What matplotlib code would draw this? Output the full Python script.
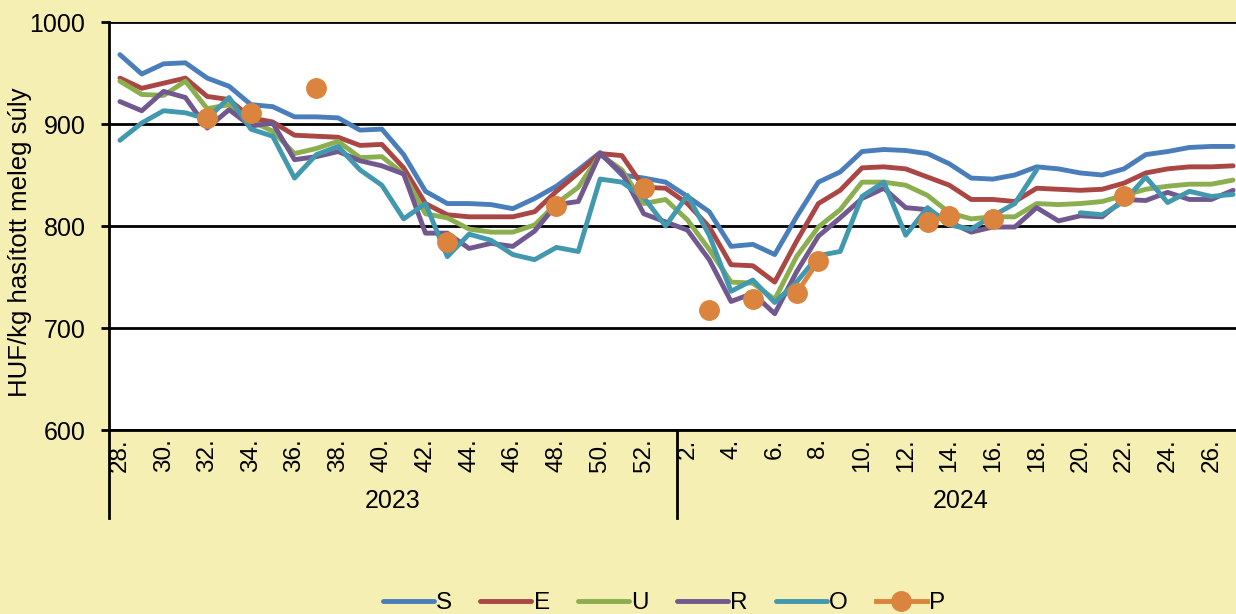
import numpy as np
import matplotlib.pyplot as plt
from matplotlib.transforms import blended_transform_factory

plt.rcParams['font.family'] = ['Liberation Sans', 'DejaVu Sans']

nan = np.nan

# week numbers inside each year group
weeks_2023 = list(range(28, 54))
weeks_2024 = list(range(2, 28))
years = ['2023', '2024']

# HUF/kg prices
s = [968, 949, 959, 960, 945, 937, 919, 917, 907, 907,
     906, 894, 895, 870, 834, 822, 822, 821, 817, 827,
     839, 855, 872, 850, 847, 843, 829, 814, 780, 782,
     772, 809, 843, 853, 873, 875, 874, 871, 861, 847,
     846, 850, 858, 856, 852, 850, 856, 870, 873, 877,
     878, 878]
e = [945, 935, 940, 945, 927, 924, 906, 902, 889, 888,
     887, 879, 880, 857, 822, 811, 809, 809, 809, 814,
     834, 852, 871, 869, 838, 837, 822, 799, 762, 761,
     745, 785, 822, 835, 857, 858, 856, 848, 840, 826,
     826, 824, 837, 836, 835, 836, 842, 852, 856, 858,
     858, 859]
u = [942, 929, 928, 942, 915, 919, 903, 893, 871, 876,
     883, 867, 868, 851, 812, 808, 797, 794, 794, 801,
     822, 838, 870, 855, 822, 826, 806, 777, 745, 744,
     728, 770, 799, 816, 843, 843, 840, 830, 813, 807,
     809, 809, 822, 821, 822, 824, 830, 836, 839, 841,
     841, 845]
r = [922, 913, 932, 926, 896, 914, 898, 901, 865, 868,
     873, 864, 859, 851, 793, 793, 778, 783, 780, 795,
     821, 824, 871, 852, 812, 804, 796, 767, 726, 734,
     714, 755, 790, 808, 827, 837, 818, 816, 804, 794,
     799, 799, 818, 805, 810, 809, 826, 825, 833, 826,
     826, 835]
o = [884, 901, 913, 911, 905, 926, 895, 888, 847, 870,
     878, 855, 840, 807, 822, 770, 792, 786, 772, 767,
     779, 775, 846, 843, 828, 800, 830, 791, 736, 747,
     725, 745, 771, 775, 829, 843, 791, 818, 801, 797,
     810, 822, 855, nan, 813, 811, 824, 848, 823, 834,
     829, 831]
p = [nan, nan, nan, nan, 906, nan, 911, nan, nan, 935,
     nan, nan, nan, nan, nan, 784, nan, nan, nan, nan,
     820, nan, nan, nan, 837, nan, nan, 718, nan, 728,
     nan, 734, 766, nan, nan, nan, nan, 804, 810, nan,
     807, nan, nan, nan, nan, nan, 829, nan, nan, nan,
     nan, nan]

labels = ['S', 'E', 'U', 'R', 'O', 'P']
colors = ['#4A7EBB', '#AA4643', '#8BAE4E', '#71588F', '#4198AF', '#DB843D']

week_labels = [f'{w}.' for w in weeks_2023 + weeks_2024]
x = np.arange(len(week_labels))

bg = '#F5EFB3'
fig = plt.figure(figsize=(12.36, 6.14), dpi=100, facecolor=bg)
# plot area runs past the right edge like the cropped original
ax = fig.add_axes([109 / 1236, 184 / 614, 1135 / 1236, 408 / 614])
ax.set_facecolor('white')

for vals, lab, col in zip([s, e, u, r, o], labels[:5], colors[:5]):
    ax.plot(x, vals, color=col, lw=3.5, label=lab,
            solid_capstyle='round', solid_joinstyle='round', zorder=3)
ax.plot(x, p, color=colors[5], lw=3.5, marker='o', ms=14,
        label=labels[5], zorder=4)

ax.set_ylim(600, 1000)
ax.set_xlim(-0.5, len(x) - 0.5)
ax.set_yticks([600, 700, 800, 900, 1000])
ax.grid(axis='y', color='black', lw=2)
ax.set_axisbelow(True)
for sp in ['top', 'right']:
    ax.spines[sp].set_visible(False)
ax.spines['left'].set_linewidth(2)
ax.spines['bottom'].set_linewidth(2)
ax.tick_params(axis='y', labelsize=18, length=6, width=2, pad=11)

ax.set_xticks(x)
ax.set_xticklabels([lab if i % 2 == 0 else '' for i, lab in enumerate(week_labels)],
                   rotation=90, fontsize=17.5)
ax.tick_params(axis='x', length=0, pad=6)

ax.set_ylabel('HUF/kg hasított meleg súly', fontsize=18.5)
ax.yaxis.set_label_coords(-0.068, 0.46)

# year group separators and labels below the week labels
trans = blended_transform_factory(ax.transData, ax.transAxes)
n23 = len(weeks_2023)
for xs in [-0.5, n23 - 0.5, len(x) - 0.5]:
    ax.plot([xs, xs], [0, -0.215], color='black', lw=2,
            transform=trans, clip_on=False)
ax.text((n23 - 1) / 2, -0.175, years[0], transform=trans,
        ha='center', va='center', fontsize=18)
ax.text(n23 + (len(weeks_2024) - 1) / 2, -0.175, years[1], transform=trans,
        ha='center', va='center', fontsize=18)

leg = fig.legend(loc='center', bbox_to_anchor=(664 / 1236, 11 / 614), ncol=6,
                 frameon=False, fontsize=17.5, handlelength=2.1,
                 handletextpad=0.1, columnspacing=1.15)

fig.savefig('out.png', dpi=100, facecolor=bg)
